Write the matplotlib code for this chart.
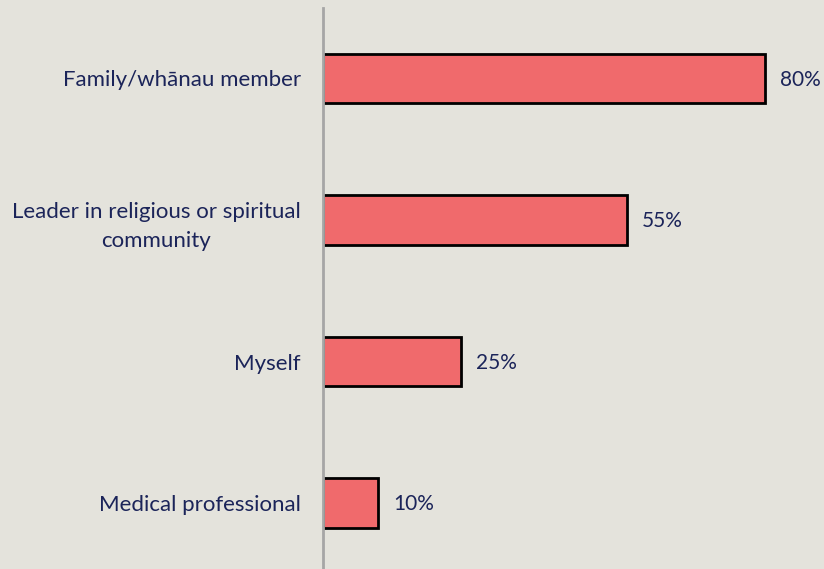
import matplotlib.pyplot as plt

categories = ["Family/wh\u0101nau member",
              "Leader in religious or spiritual\ncommunity",
              "Myself",
              "Medical professional"]
values = [80, 55, 25, 10]

bg = "#E4E3DC"
navy = "#1B2459"

fig = plt.figure(figsize=(8.24, 5.69), dpi=100, facecolor=bg)
ax = fig.add_axes([323 / 824, 0, 1 - 323 / 824, 561 / 569], facecolor=bg)

ypos = range(len(categories))
ax.barh(ypos, values, height=0.35, color="#F06A6C", edgecolor="black", linewidth=2)

for y, v in zip(ypos, values):
    ax.text(v + 2.7, y + 0.01, f"{v}%", va="center", ha="left", fontsize=15,
            color=navy, family="Lato")

ax.set_yticks(list(ypos))
ax.set_yticklabels(categories, fontsize=16, color=navy, family="Lato",
                   multialignment="center", linespacing=1.55)
ax.tick_params(axis="y", length=0, pad=16)
ax.set_xticks([])
ax.set_xlim(0, 90.7)
ax.set_ylim(3.466, -0.498)

for s in ["top", "right", "bottom"]:
    ax.spines[s].set_visible(False)
ax.spines["left"].set_color("#A6A6A6")
ax.spines["left"].set_linewidth(2)

fig.savefig("out.png", dpi=100, facecolor=bg)
